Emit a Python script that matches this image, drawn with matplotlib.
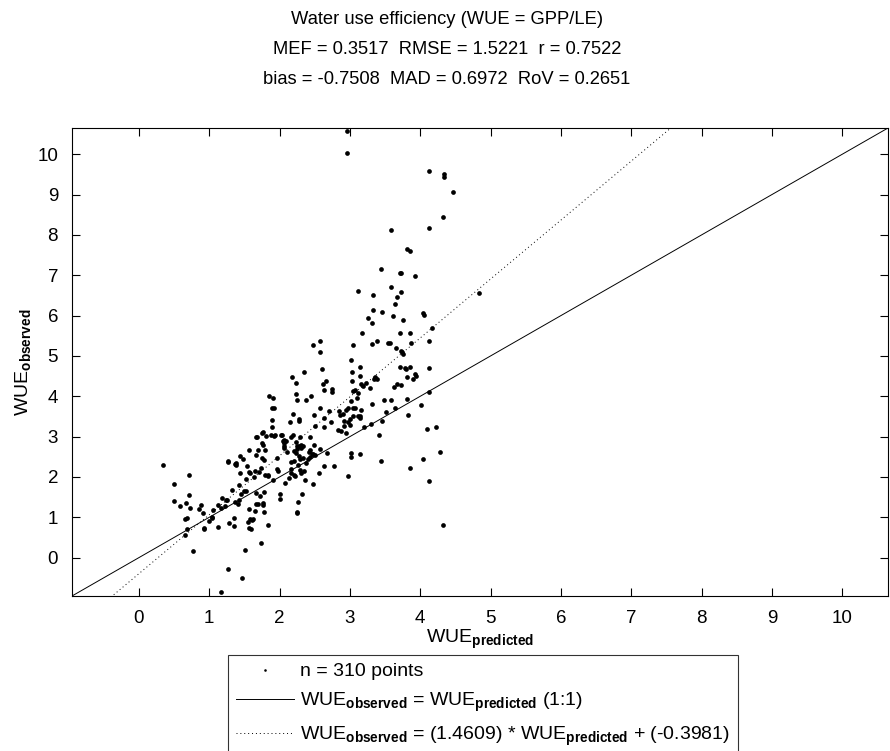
import numpy as np
import matplotlib
matplotlib.use('Agg')
import matplotlib.pyplot as plt

plt.rcParams['font.family'] = ['Liberation Sans', 'DejaVu Sans']
plt.rcParams['mathtext.fontset'] = 'custom'
plt.rcParams['mathtext.rm'] = 'Liberation Sans'
plt.rcParams['mathtext.bf'] = 'Liberation Sans:bold'
plt.rcParams['mathtext.it'] = 'Liberation Sans:italic'

wue_pred = [
    0.34, 0.50, 0.50, 0.59, 0.67, 0.71, 0.71, 0.73, 0.66, 0.68, 0.69, 0.66, 0.77, 0.85, 0.89, 0.91,
    0.92, 0.92, 1.00, 1.05, 1.04, 1.12, 1.13, 1.17, 1.18, 1.17, 1.24, 1.27, 1.27, 1.28, 1.32, 1.36,
    1.36, 1.37, 1.38, 1.38, 1.41, 1.42, 1.42, 1.44, 1.44, 1.45, 1.47, 1.48, 1.51, 1.52, 1.53, 1.54,
    1.55, 1.56, 1.56, 1.57, 1.57, 1.58, 1.59, 1.61, 1.62, 1.64, 1.65, 1.66, 1.66, 1.67, 1.70, 1.67,
    1.70, 1.71, 1.72, 1.73, 1.73, 1.75, 1.75, 1.76, 1.76, 1.76, 1.76, 1.78, 1.78, 1.78, 1.79, 1.80,
    1.81, 1.83, 1.83, 1.84, 1.85, 1.88, 1.89, 1.89, 1.91, 1.92, 1.90, 1.91, 1.92, 1.94, 1.96, 1.97,
    1.98, 2.00, 2.00, 2.02, 2.03, 2.05, 2.06, 2.07, 2.08, 2.09, 2.10, 2.13, 2.15, 2.16, 2.16, 2.17,
    2.17, 2.18, 2.19, 2.19, 2.20, 2.20, 2.21, 2.23, 2.23, 2.22, 2.24, 2.24, 2.25, 2.25, 2.25, 2.25,
    2.25, 2.26, 2.26, 2.27, 2.27, 2.28, 2.28, 2.29, 2.29, 2.29, 2.30, 2.30, 2.31, 2.31, 2.32, 2.33,
    2.34, 2.35, 2.35, 2.36, 2.38, 2.38, 2.40, 2.42, 2.43, 2.43, 2.44, 2.45, 2.46, 2.47, 2.48, 2.48,
    2.49, 2.49, 2.50, 2.51, 2.56, 2.57, 2.57, 2.57, 2.58, 2.60, 2.62, 2.63, 2.63, 2.63, 2.63, 2.66,
    2.68, 2.71, 2.74, 2.75, 2.77, 2.83, 2.85, 2.86, 2.87, 2.90, 2.91, 2.92, 2.94, 2.95, 2.97, 2.97,
    2.98, 3.00, 3.00, 3.01, 3.01, 3.02, 3.03, 3.02, 3.03, 3.04, 3.04, 3.05, 3.05, 3.07, 3.08, 3.10,
    3.11, 3.12, 3.14, 3.14, 3.14, 3.15, 3.15, 3.16, 3.16, 3.17, 3.19, 3.20, 3.23, 3.28, 3.30, 3.31,
    3.32, 3.34, 3.36, 3.38, 3.38, 3.41, 3.44, 3.46, 3.49, 3.52, 3.54, 3.57, 3.59, 3.63, 3.64, 3.65,
    3.67, 3.71, 3.71, 3.73, 3.73, 3.75, 3.78, 3.80, 3.81, 3.81, 3.82, 3.85, 3.86, 3.86, 3.87, 3.90,
    3.92, 4.01, 4.04, 4.09, 4.12, 4.12, 4.13, 4.13, 4.22, 4.28, 4.33, 4.17, 3.74, 3.94, 2.73, 1.25,
    1.23, 1.04, 2.07, 2.07, 1.68, 1.75, 1.27, 1.37, 1.49, 1.58, 1.65,
    2.96, 2.96, 4.13, 4.34, 4.34, 4.47, 4.33, 4.13, 3.59, 3.81, 3.86, 3.44, 3.71, 3.72, 3.92, 3.59,
    3.12, 3.73, 3.33, 3.67, 3.64, 3.33, 3.46, 4.04, 4.06, 3.26, 3.61, 3.76, 3.32, 4.83,
]
wue_obs = [
    2.29, 1.83, 1.41, 1.28, 1.36, 2.04, 1.56, 1.22, 0.95, 0.98, 0.71, 0.56, 0.16, 1.21, 1.30, 1.11,
    0.74, 0.70, 0.90, 1.19, 0.98, 0.76, 1.30, 1.22, 1.47, -0.84, 1.43, 2.38, -0.28, 0.86, 1.67, 0.98,
    0.78, 1.37, 2.35, 2.30, 1.34, 1.44, 1.80, 2.51, 2.11, 1.57, -0.51, 2.45, 0.20, 1.95, 1.65, 2.26,
    0.88, 2.66, 2.12, 1.21, 0.74, 2.09, 0.71, 0.93, 0.96, 1.99, 1.15, 1.60, 2.55, 2.99, 2.68, 1.32,
    1.32, 2.13, 1.54, 2.23, 0.36, 2.48, 3.09, 3.12, 2.79, 1.36, 1.30, 2.42, 1.12, 1.63, 2.06, 2.66,
    3.02, 2.04, 0.81, 2.02, 4.00, 3.04, 3.41, 3.71, 3.96, 3.71, 3.23, 1.92, 3.02, 3.03, 2.46, 2.19,
    2.16, 1.58, 1.46, 3.04, 3.05, 2.89, 2.77, 2.71, 1.86, 2.89, 2.62, 1.97, 3.36, 2.21, 2.11, 2.36,
    3.00, 4.48, 3.05, 3.55, 2.05, 2.40, 2.64, 2.59, 2.86, 2.02, 4.33, 4.05, 3.91, 2.78, 2.69, 1.11,
    1.13, 1.39, 2.30, 2.52, 2.77, 3.39, 3.44, 2.98, 2.17, 2.45, 2.77, 2.73, 2.80, 2.09, 1.57, 2.46,
    2.78, 4.59, 2.15, 1.93, 3.92, 2.35, 2.45, 2.62, 2.99, 2.50, 2.67, 4.01, 2.56, 5.28, 1.83, 2.56,
    2.80, 3.53, 3.26, 2.54, 2.09, 2.70, 5.36, 5.11, 3.71, 4.68, 4.30, 3.25, 2.26, 4.15, 3.46, 4.39,
    2.60, 3.63, 4.18, 4.10, 2.28, 3.17, 3.64, 3.54, 3.13, 3.57, 3.39, 3.27, 3.09, 3.66, 2.02, 3.37,
    3.72, 3.28, 3.43, 2.49, 2.60, 4.91, 4.59, 3.88, 4.37, 3.72, 4.12, 3.52, 5.27, 4.16, 3.72, 3.97,
    3.50, 4.07, 4.73, 3.45, 2.56, 4.51, 3.50, 4.30, 3.65, 5.57, 4.25, 3.23, 4.33, 4.20, 3.31, 3.81,
    5.29, 4.44, 4.47, 5.38, 4.42, 3.03, 2.39, 3.39, 3.91, 3.60, 5.32, 5.32, 3.90, 4.22, 3.72, 5.20,
    4.30, 4.73, 5.57, 4.29, 5.13, 5.05, 4.70, 4.68, 4.49, 3.93, 3.54, 4.73, 2.22, 5.56, 5.32, 4.44,
    4.56, 3.78, 2.44, 3.18, 4.69, 5.36, 4.10, 1.90, 3.23, 2.63, 0.81, 5.69, 5.10, 4.50, 3.37, 1.42,
    1.28, 1.01, 2.91, 2.85, 2.98, 2.85, 2.40, 2.31, 1.65, 0.95, 2.15,
    10.58, 10.04, 9.59, 9.50, 9.43, 9.06, 8.45, 8.17, 8.13, 7.66, 7.60, 7.16, 7.06, 7.05, 6.98, 6.72,
    6.61, 6.58, 6.50, 6.45, 6.30, 6.13, 6.09, 6.06, 6.02, 5.95, 6.00, 5.90, 5.82, 6.56,
]

slope, intercept = 1.4609, -0.3981
lim = (-0.95, 10.65)
ticks = list(range(0, 11))

fig = plt.figure(figsize=(8.9, 7.51), dpi=100)
ax = fig.add_axes([72/890, 1 - 596/751, (888 - 72)/890, (596 - 128)/751])

ax.plot(wue_pred, wue_obs, 'o', color='black', markersize=3.4, markeredgewidth=0,
        label='n = 310 points')
xx = np.array(lim)
ax.plot(xx, xx, '-', color='black', linewidth=0.7,
        label=r'WUE$_{\mathbf{observed}}$ = WUE$_{\mathbf{predicted}}$ (1:1)')
ax.plot(xx, slope * xx + intercept, color='black', linewidth=0.7, linestyle=(0, (1, 3)),
        label=r'WUE$_{\mathbf{observed}}$ = (1.4609) * WUE$_{\mathbf{predicted}}$ + (-0.3981)')

ax.set_xlim(lim)
ax.set_ylim(lim)
ax.set_xticks(ticks)
ax.set_yticks(ticks)
ax.tick_params(direction='in', length=5.5, width=0.8, top=True, right=True,
               labelsize=13.5, pad=10, colors='black')
for s in ax.spines.values():
    s.set_linewidth(0.8)

ax.set_xlabel(r'WUE$_{\mathbf{predicted}}$', fontsize=14, labelpad=1)
ax.set_ylabel(r'WUE$_{\mathbf{observed}}$', fontsize=14, labelpad=3)

# titulos
fig.text(0.502, 1 - 20/751, 'Water use efficiency (WUE = GPP/LE)', ha='center', va='center', fontsize=13.2)
fig.text(0.502, 1 - 50/751, 'MEF = 0.3517  RMSE = 1.5221  r = 0.7522', ha='center', va='center', fontsize=13.2)
fig.text(0.502, 1 - 80/751, 'bias = -0.7508  MAD = 0.6972  RoV = 0.2651', ha='center', va='center', fontsize=13.2)

leg = fig.legend(loc='upper left', bbox_to_anchor=(228/890, 1 - 655/751), fontsize=14,
                 frameon=True, fancybox=False, edgecolor='black', handlelength=3.0,
                 handletextpad=0.3, labelspacing=0.55, borderpad=0.4, borderaxespad=0,
                 markerscale=0.55)
leg.get_frame().set_linewidth(0.8)

plt.savefig('out.png', dpi=100)
